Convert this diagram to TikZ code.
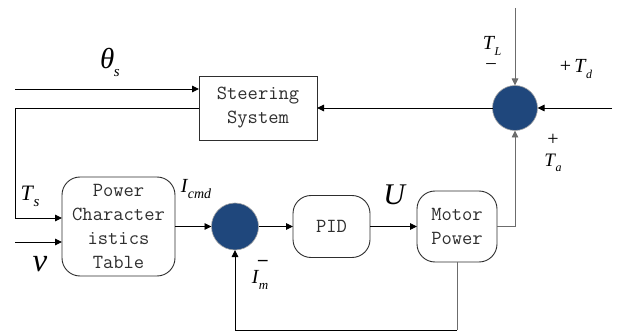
\documentclass[tikz,border=0pt]{standalone}
\usepackage{fontspec}
\setmainfont{Liberation Serif}
\newfontfamily\boxfont{Latin Modern Mono}
\usetikzlibrary{arrows.meta}
\newcommand\lbl[4]{\fontsize{#1}{#1}\selectfont\textit{#2}\kern-0.5pt\raisebox{-0.28em}{\fontsize{#3}{#3}\selectfont\textit{#4}}}
\definecolor{sumblue}{HTML}{1F477C}
\definecolor{txtgray}{HTML}{2E2E2E}
\begin{document}
\begin{tikzpicture}[x=1pt,y=-1pt,
  every node/.style={inner sep=0pt,outer sep=0pt},
  boxtext/.style={font=\boxfont\fontsize{20}{24}\selectfont,text=txtgray,align=center},
  sqbox/.style={boxtext,draw=txtgray,line width=0.9pt},
  rbox/.style={boxtext,draw=txtgray,line width=0.9pt,rounded corners=18pt},
  sumc/.style={circle,fill=sumblue,draw=gray!70,line width=0.6pt},
  arr/.style={-{Triangle[length=7pt,width=6.5pt]},line width=0.9pt},
  ln/.style={line width=0.9pt},
  gl/.style={draw=gray!85!black}]
\useasboundingbox (0,0) rectangle (619,334);
% blocks
\node[sqbox,minimum width=118pt,minimum height=64pt] (steer) at (258,108) {Steering\\System};
\node[rbox,minimum width=113pt,minimum height=99pt] (pct) at (118.5,226.5) {Power\\Character\\istics\\Table};
\node[rbox,minimum width=77pt,minimum height=62pt] (pid) at (331.5,226.5) {PID};
\node[rbox,minimum width=80pt,minimum height=71pt] (mp) at (457,226.5) {Motor\\Power};
\node[sumc,minimum size=47pt] (s1) at (235,226.5) {};
\node[sumc,minimum size=45pt] (s2) at (515,108) {};
% free ends
\coordinate (thin) at (15,89);
\coordinate (fbl) at (15,108);
\coordinate (tsin) at (62,218);
\coordinate (vin) at (15,242);
\coordinate (vend) at (62,242);
\coordinate (tltop) at (515,8);
\coordinate (tdin) at (612,108);
\coordinate (mpb) at (457,330);
% connectors
\draw[arr] (thin) -- (steer.west |- thin);
\draw[arr] (steer.west) -- (fbl) |- (tsin);
\draw[arr] (vin) -- (vend);
\draw[arr] (pct.east |- s1.west) -- (s1.west);
\draw[arr] (s1.east) -- (pid.west);
\draw[arr] (pid.east) -- (mp.west);
\draw[arr,gl] (mp.east) -| (s2.south);
\draw[arr,gl] (tltop) -- (s2.north);
\draw[arr] (tdin) -- (s2.east);
\draw[arr] (s2.west) -- (steer.east);
\draw[ln,gl] (mp.south) -- (mpb);
\draw[arr] (mpb) -| (s1.south);
% labels
\node (lth) at (110,62) {\lbl{29}{θ}{15}{s}};
\node (lts) at (30,196) {\lbl{22}{T}{15}{s}};
\node (lv) at (40,264) {\fontsize{33}{33}\selectfont\textit{v}};
\node (lic) at (196,189) {\lbl{20}{I}{14}{cmd}};
\node (lu) at (395,195) {\fontsize{30}{30}\selectfont\textit{U}};
\node (lmm) at (263,263) {\fontsize{19}{19}\selectfont\textbf{–}};
\node (lim) at (260,280) {\lbl{20}{I}{13}{m}};
\node (ltl) at (492,46) {\lbl{20}{T}{12}{L}};
\node (ltlm) at (491,66) {\fontsize{19}{19}\selectfont –};
\node (ltd) at (576,69) {\fontsize{20}{20}\selectfont +\,\lbl{20}{T}{12}{d}};
\node (ltap) at (553,140) {\fontsize{20}{20}\selectfont +};
\node (lta) at (553,163) {\lbl{19}{T}{12}{a}};
\end{tikzpicture}
\end{document}
